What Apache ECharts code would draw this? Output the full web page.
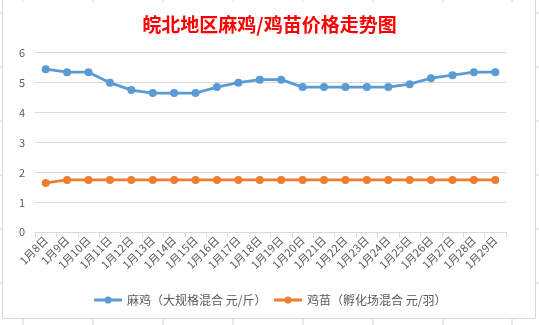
<!DOCTYPE html>
<html><head><meta charset="utf-8">
<script src="https://cdn.jsdelivr.net/npm/echarts@6/dist/echarts.min.js"></script>
<style>html,body{margin:0;padding:0;background:#fff}#c{width:539px;height:325px}</style>
</head><body><div id="c"></div>
<script>
const categories = ['1月8日','1月9日','1月10日','1月11日','1月12日','1月13日','1月14日','1月15日','1月16日','1月17日','1月18日','1月19日','1月20日','1月21日','1月22日','1月23日','1月24日','1月25日','1月26日','1月27日','1月28日','1月29日'];
const majiValues = [5.45,5.35,5.35,5.0,4.75,4.65,4.65,4.65,4.85,5.0,5.1,5.1,4.85,4.85,4.85,4.85,4.85,4.95,5.15,5.25,5.35,5.35];
const jimiaoValues = [1.65,1.75,1.75,1.75,1.75,1.75,1.75,1.75,1.75,1.75,1.75,1.75,1.75,1.75,1.75,1.75,1.75,1.75,1.75,1.75,1.75,1.75];
const seriesNames = ['麻鸡（大规格混合 元/斤）','鸡苗（孵化场混合 元/羽）'];
const titleText = '皖北地区麻鸡/鸡苗价格走势图';

const chart = echarts.init(document.getElementById('c'));
const font = '"Noto Sans CJK SC", "Noto Sans", sans-serif';
const sheetLines = [];
[23,93,163,233,303,373,443,512].forEach(x=>{
  sheetLines.push({type:'line',shape:{x1:x,y1:0,x2:x,y2:2},style:{stroke:'#d4d4d4',lineWidth:1},silent:true});
  sheetLines.push({type:'line',shape:{x1:x,y1:319,x2:x,y2:325},style:{stroke:'#d4d4d4',lineWidth:1},silent:true});
});
[13,67,121,175,229,283].forEach(y=>{
  sheetLines.push({type:'line',shape:{x1:0,y1:y,x2:2,y2:y},style:{stroke:'#d4d4d4',lineWidth:1},silent:true});
  sheetLines.push({type:'line',shape:{x1:536,y1:y,x2:539,y2:y},style:{stroke:'#d4d4d4',lineWidth:1},silent:true});
});
chart.setOption({
  animation:false,
  backgroundColor:'#fff',
  graphic: sheetLines.concat([
    {type:'rect',shape:{x:2.5,y:-1,width:533,height:319.5},style:{fill:'none',stroke:'#d9d9d9',lineWidth:1},silent:true,z:-1}
  ]),
  title:{text:titleText,left:'center',top:10,
    textStyle:{color:'#ff0000',fontSize:19,fontWeight:'bold',fontFamily:font}},
  legend:{bottom:14,left:'center',itemWidth:28,itemHeight:9,itemGap:6,
    lineStyle:{width:3},
    textStyle:{color:'#595959',fontSize:12,fontFamily:font},
    data:seriesNames},
  grid:{left:35,right:33,top:52.7,bottom:92.7,containLabel:false},
  xAxis:{type:'category',data:categories,boundaryGap:true,
    axisLine:{lineStyle:{color:'#d9d9d9'}},
    axisTick:{show:true,length:5,lineStyle:{color:'#d9d9d9'}},
    axisLabel:{rotate:45,color:'#595959',fontSize:11,fontFamily:font,margin:6,interval:0}},
  yAxis:{type:'value',min:0,max:6,interval:1,
    axisLine:{show:false},axisTick:{show:false},
    axisLabel:{color:'#595959',fontSize:11,fontFamily:font,margin:10},
    splitLine:{lineStyle:{color:'#d9d9d9'}}},
  series:[
    {name:seriesNames[0],type:'line',data:majiValues,symbol:'circle',symbolSize:8,
      color:'#5B9BD5',lineStyle:{width:2.8,color:'#5B9BD5'},itemStyle:{color:'#5B9BD5'}},
    {name:seriesNames[1],type:'line',data:jimiaoValues,symbol:'circle',symbolSize:8,
      color:'#ED7D31',lineStyle:{width:2.8,color:'#ED7D31'},itemStyle:{color:'#ED7D31'}}
  ]
});
</script></body></html>
